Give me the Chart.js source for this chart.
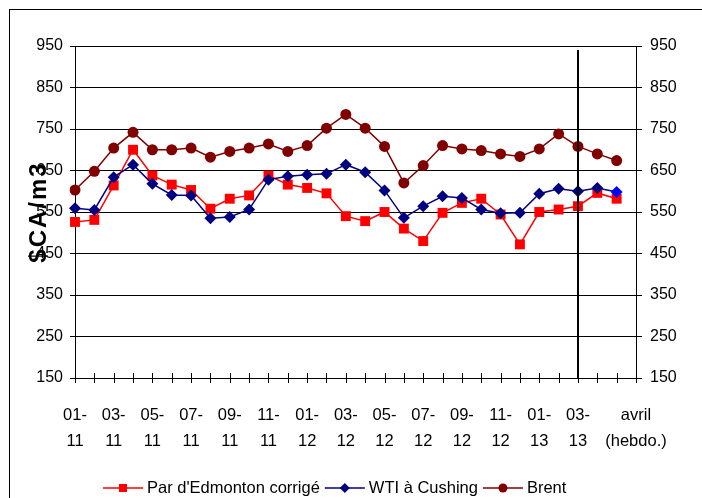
<!DOCTYPE html>
<html>
<head>
<meta charset="utf-8">
<script src="https://cdn.jsdelivr.net/npm/chart.js@4"></script>
<style>
  body { margin: 0; background: #fff; }
  #wrap { width: 702px; height: 498px; position: relative; }
</style>
</head>
<body>
<div id="wrap"><canvas id="myChart"></canvas></div>
<script>
// x categories (monthly, then weekly April points); blank = unlabelled tick
var xLabels = [
  ['01-', '11'], '', ['03-', '11'], '', ['05-', '11'], '', ['07-', '11'], '', ['09-', '11'], '', ['11-', '11'], '',
  ['01-', '12'], '', ['03-', '12'], '', ['05-', '12'], '', ['07-', '12'], '', ['09-', '12'], '', ['11-', '12'], '',
  ['01-', '13'], '', ['03-', '13'], '', '', ['avril', '(hebdo.)']
];
var seriesNames = ["Par d'Edmonton corrigé", 'WTI à Cushing', 'Brent'];
var edmonton = [526, 531, 614, 700, 638, 616, 603, 558, 582, 590, 638, 616, 608, 595, 540, 528, 550, 510, 480, 548, 572, 582, 544, 472, 550, 556, 564, 596, 582];
var wti = [559, 555, 634, 664, 618, 591, 590, 535, 538, 556, 628, 636, 640, 642, 664, 646, 602, 536, 564, 588, 584, 556, 547, 548, 594, 606, 600, 608, 598];
var brent = [603, 648, 704, 742, 700, 700, 704, 682, 696, 704, 714, 696, 710, 752, 785, 752, 708, 620, 662, 710, 702, 698, 690, 684, 702, 738, 708, 690, 674];
var yTicks = [150, 250, 350, 450, 550, 650, 750, 850, 950];
var markerIndex = 26; // vertical line at 03-13
var yTitle = '$CA/m3';

var FONT = "'Liberation Sans', Arial, sans-serif";

var extras = {
  id: 'extras',
  afterDatasetsDraw: function(chart) {
    var ctx = chart.ctx;
    var xs = chart.scales.x;
    var area = chart.chartArea;
    // vertical marker line
    var mx = Math.round(xs.getPixelForValue(markerIndex));
    ctx.save();
    ctx.strokeStyle = '#000';
    ctx.lineWidth = 2;
    ctx.beginPath();
    ctx.moveTo(mx, area.top + 4);
    ctx.lineTo(mx, area.bottom);
    ctx.stroke();
    ctx.restore();
  },
  afterDraw: function(chart) {
    var ctx = chart.ctx;
    var xs = chart.scales.x;
    var area = chart.chartArea;
    ctx.save();
    // outer frame
    ctx.strokeStyle = '#000';
    ctx.lineWidth = 1;
    ctx.strokeRect(9.5, 9.5, 800, 800);
    // x tick marks crossing the axis
    ctx.beginPath();
    for (var i = 0; i < xLabels.length; i++) {
      var x = Math.round(xs.getPixelForValue(i)) + 0.5;
      ctx.moveTo(x, area.bottom - 5);
      ctx.lineTo(x, area.bottom + 5);
    }
    ctx.stroke();
    // y title
    ctx.translate(39, (area.top + area.bottom) / 2);
    ctx.rotate(-Math.PI / 2);
    ctx.font = 'bold 24px ' + FONT;
    ctx.letterSpacing = '2px';
    ctx.fillStyle = '#000';
    ctx.textAlign = 'center';
    ctx.textBaseline = 'middle';
    ctx.fillText(yTitle, 0, 0);
    ctx.restore();

    // legend
    ctx.save();
    ctx.font = '16.5px ' + FONT;
    ctx.textBaseline = 'middle';
    ctx.textAlign = 'left';
    var lx = 103, ly = 488;
    chart.data.datasets.forEach(function(ds) {
      ctx.strokeStyle = ds.borderColor;
      ctx.fillStyle = ds.borderColor;
      ctx.lineWidth = 1.5;
      ctx.beginPath();
      ctx.moveTo(lx, ly);
      ctx.lineTo(lx + 40, ly);
      ctx.stroke();
      var cx = lx + 20;
      ctx.beginPath();
      if (ds.pointStyle === 'rect') {
        ctx.rect(cx - 4, ly - 4, 8, 8);
      } else if (ds.pointStyle === 'rectRot') {
        ctx.moveTo(cx, ly - 5); ctx.lineTo(cx + 5, ly); ctx.lineTo(cx, ly + 5); ctx.lineTo(cx - 5, ly);
        ctx.closePath();
      } else {
        ctx.arc(cx, ly, 4.5, 0, Math.PI * 2);
      }
      ctx.fill();
      ctx.fillStyle = '#000';
      ctx.fillText(ds.label, lx + 44, ly);
      lx += 44 + ctx.measureText(ds.label).width + 5;
    });
    ctx.restore();
  }
};

var yTickOpts = {
  min: 150, max: 950,
  afterBuildTicks: function(s) { s.ticks = yTicks.map(function(v) { return { value: v }; }); }
};

new Chart('myChart', {
  type: 'line',
  data: {
    labels: xLabels,
    datasets: [{
      label: seriesNames[0],
      data: edmonton,
      borderColor: '#FF0000',
      backgroundColor: '#FF0000',
      borderWidth: 1.5,
      pointStyle: 'rect',
      pointRadius: 7,
      pointBorderWidth: 0,
      order: 3
    }, {
      label: seriesNames[1],
      data: wti,
      borderColor: '#000080',
      backgroundColor: '#000080',
      pointBackgroundColor: function(c) { return c.dataIndex === wti.length - 1 ? '#0000FF' : '#000080'; },
      borderWidth: 1.5,
      pointStyle: 'rectRot',
      pointRadius: 6,
      pointBorderWidth: 0,
      order: 2
    }, {
      label: seriesNames[2],
      data: brent,
      borderColor: '#800000',
      backgroundColor: '#800000',
      borderWidth: 1.5,
      pointStyle: 'circle',
      pointRadius: 5.5,
      pointBorderWidth: 0,
      order: 1
    }]
  },
  options: {
    responsive: true,
    maintainAspectRatio: false,
    animation: false,
    layout: { padding: { top: 46, left: 0, right: 0, bottom: 0 } },
    plugins: { legend: { display: false }, tooltip: { enabled: false } },
    scales: {
      x: {
        type: 'category',
        offset: false,
        grid: { display: false },
        border: { display: true, color: '#000', width: 1 },
        ticks: {
          autoSkip: false, maxRotation: 0, minRotation: 0,
          color: '#000', padding: 16,
          font: { family: FONT, size: 16.5, lineHeight: 26 / 16.5 }
        },
        afterFit: function(s) { s.height = 120; }
      },
      y: {
        position: 'left',
        min: yTickOpts.min, max: yTickOpts.max,
        afterBuildTicks: yTickOpts.afterBuildTicks,
        grid: { color: '#000', lineWidth: 1, tickLength: 5, tickColor: '#000' },
        border: { display: true, color: '#000', width: 1 },
        ticks: { color: '#000', padding: 7, font: { family: FONT, size: 16 } },
        afterFit: function(s) { s.width = 75; }
      },
      y2: {
        position: 'right',
        min: yTickOpts.min, max: yTickOpts.max,
        afterBuildTicks: yTickOpts.afterBuildTicks,
        grid: { drawOnChartArea: false, tickLength: 6, tickColor: '#000' },
        border: { display: true, color: '#000', width: 1 },
        ticks: { color: '#000', padding: 8, font: { family: FONT, size: 16 } },
        afterFit: function(s) { s.width = 66; }
      }
    }
  },
  plugins: [extras]
});
</script>
</body>
</html>
